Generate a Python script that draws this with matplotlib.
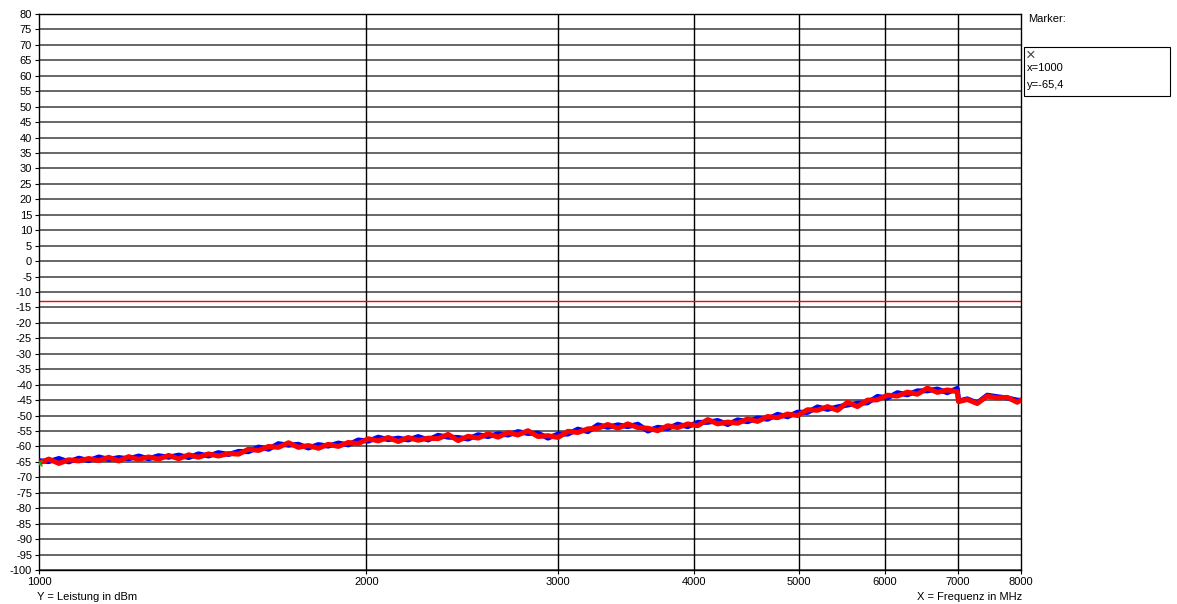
import matplotlib
matplotlib.use("Agg")
import matplotlib.pyplot as plt
from matplotlib.patches import Rectangle

plt.rcParams['font.family'] = ['Liberation Sans', 'DejaVu Sans']

# frequency points in MHz
freq = [1000, 1021, 1043, 1065, 1088, 1111, 1135, 1159, 1184, 1209,
        1235, 1261, 1288, 1316, 1344, 1373, 1402, 1432, 1462, 1494,
        1526, 1558, 1592, 1626, 1660, 1696, 1732, 1769, 1807, 1845,
        1885, 1925, 1966, 2008, 2051, 2095, 2140, 2185, 2232, 2280,
        2328, 2378, 2429, 2481, 2534, 2588, 2643, 2700, 2757, 2816,
        2877, 2938, 3001, 3065, 3130, 3197, 3266, 3335, 3407, 3479,
        3554, 3630, 3707, 3786, 3867, 3950, 4034, 4121, 4209, 4299,
        4390, 4484, 4580, 4678, 4778, 4880, 4984, 5091, 5199, 5311,
        5424, 5540, 5658, 5779, 5903, 6029, 6158, 6289, 6424, 6561,
        6701, 6844, 6990, 7010, 7140, 7292, 7448, 7607, 7770, 7936, 8000]

# level trace 1 (blue), dBm
level_blue = [-64.6, -64.9, -63.9, -65.0, -63.8, -64.6, -63.4, -64.2, -63.6, -64.0,
              -63.1, -64.0, -63.0, -63.5, -62.8, -63.6, -62.4, -63.1, -62.0, -62.6,
              -61.6, -61.7, -60.2, -60.9, -59.1, -59.6, -59.3, -60.5, -59.4, -59.9,
              -58.9, -59.5, -57.9, -58.3, -57.0, -57.8, -57.3, -57.9, -56.8, -57.9,
              -56.4, -57.0, -57.1, -57.6, -56.2, -56.8, -55.9, -56.3, -55.2, -55.8,
              -55.7, -57.3, -56.0, -56.0, -54.4, -55.2, -53.0, -53.8, -53.0, -53.6,
              -52.8, -55.0, -53.8, -54.2, -52.8, -53.6, -52.2, -52.2, -51.6, -52.9,
              -51.4, -52.0, -50.8, -51.2, -49.6, -50.4, -48.9, -49.0, -47.2, -48.0,
              -47.2, -46.6, -46.0, -45.9, -43.8, -44.3, -42.6, -43.3, -42.0, -42.0,
              -41.4, -42.6, -41.2, -45.3, -44.6, -45.9, -43.4, -43.9, -44.3, -45.0, -45.1]

# level trace 2 (red), dBm
level_red = [-65.4, -64.1, -65.5, -64.3, -64.7, -63.9, -64.6, -63.5, -64.7, -63.3,
             -64.2, -63.4, -64.1, -62.9, -64.0, -62.7, -63.5, -62.4, -63.1, -62.3,
             -62.5, -60.9, -61.3, -60.0, -60.3, -58.8, -60.3, -59.7, -60.6, -59.3,
             -60.0, -58.7, -59.1, -57.5, -58.2, -57.1, -58.4, -57.1, -58.0, -57.3,
             -57.5, -56.1, -58.1, -56.7, -57.3, -55.9, -57.0, -55.5, -56.3, -54.9,
             -56.8, -56.5, -57.1, -55.1, -55.5, -54.3, -54.1, -52.9, -54.1, -52.7,
             -53.9, -54.1, -54.9, -53.3, -53.9, -52.7, -53.3, -51.3, -52.7, -52.1,
             -52.5, -51.1, -51.9, -50.3, -50.7, -49.5, -50.0, -48.1, -48.3, -47.1,
             -48.3, -45.7, -47.1, -45.0, -44.9, -43.4, -43.7, -42.4, -43.1, -41.1,
             -42.5, -41.7, -42.3, -45.5, -44.8, -46.1, -43.7, -44.3, -44.1, -45.7, -45.0]

limit_level = -13
marker_x = 1000
marker_y = -65.4

x_ticks = [1000, 2000, 3000, 4000, 5000, 6000, 7000, 8000]
y_ticks = list(range(-100, 81, 5))

fig = plt.figure(figsize=(11.77, 6.04), dpi=100)
ax = fig.add_axes([39 / 1177, 1 - 570 / 604, 982 / 1177, 556 / 604])

ax.set_xscale('log')
ax.set_xlim(1000, 8000)
ax.set_ylim(-100, 80)

for y in y_ticks:
    ax.axhline(y, color='#5a5a5a', lw=1.3, zorder=1)
for x in x_ticks[1:-1]:
    ax.axvline(x, color='black', lw=1.0, zorder=1)

ax.axhline(limit_level, color='#ff0000', lw=1.0, zorder=2)

ax.plot(freq, level_blue, color='#0000ff', lw=3.6, zorder=3)
ax.plot(freq, level_red, color='#ff0000', lw=3.6, zorder=4)
ax.plot([marker_x], [marker_y], marker='x', color='#00c000', ms=5, mew=1, zorder=5)

ax.set_xticks(x_ticks)
ax.set_xticklabels([str(v) for v in x_ticks])
ax.xaxis.set_minor_locator(matplotlib.ticker.NullLocator())
ax.set_yticks(y_ticks)
ax.set_yticklabels([str(v) for v in y_ticks])
ax.tick_params(axis='both', direction='out', length=3, width=0.8, labelsize=8,
               pad=2, color='black')

for s in ax.spines.values():
    s.set_color('black')
    s.set_linewidth(1.0)

fig.text(37 / 1177, 1 - 597 / 604, 'Y = Leistung in dBm', fontsize=8, va='center', ha='left')
fig.text(1022 / 1177, 1 - 597 / 604, 'X = Frequenz in MHz', fontsize=8, va='center', ha='right')

# marker readout on the right
fig.text(1028 / 1177, 1 - 19 / 604, 'Marker:', fontsize=8, va='center', ha='left')
fig.patches.append(Rectangle((1024 / 1177, 1 - 96 / 604), 146 / 1177, 49 / 604,
                             transform=fig.transFigure, fill=False, ec='black', lw=0.8))
fig.text(1026 / 1177, 1 - 55 / 604, '\u00d7', fontsize=12, va='center', ha='left', color='#444444')
fig.text(1027 / 1177, 1 - 68 / 604, f'x={marker_x}', fontsize=8, va='center', ha='left')
fig.text(1027 / 1177, 1 - 85 / 604, 'y=' + f'{marker_y}'.replace('.', ','), fontsize=8,
         va='center', ha='left')

fig.savefig('out.png', dpi=100)
